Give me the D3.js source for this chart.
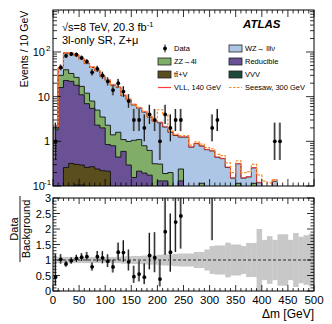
<!DOCTYPE html>
<html>
<head>
<meta charset="UTF-8">
<style>
  body { margin: 0; background: #fff; }
  text { font-family: "Liberation Sans", Arial, sans-serif; fill: #000; }
</style>
</head>
<body>
<svg width="332" height="324"></svg>
<script src="https://d3js.org/d3.v7.min.js"></script>
<script>

// bins of 10 GeV from 0 to 500
const edges = d3.range(0, 510, 10);

// observed events per bin (0 = no point)
const dataCounts = [1, 45, 82, 90, 87, 74, 61, 35, 42, 30, 22, 14, 20, 13, 8, 3, 3, 2, 4, 3,
  1, 4, 2, 3, 3, 0, 0, 0, 0, 0, 2, 3, 0, 0, 0, 0, 0, 0, 0, 0,
  0, 0, 1, 1, 0, 0, 0, 0, 0, 0];

// backgrounds, stacked bottom -> top: VVV, ttV, Reducible, ZZ, WZ
const vvv = [0.005, 0.01, 0.02, 0.05, 0.105, 0.105, 0.02, 0.01, 0.01, 0.01,
  0.005, 0.005, 0.005, 0.005, 0.005, 0.005, 0.005, 0.005, 0.005, 0.005,
  0.005, 0.005, 0.005, 0.005, 0.005, 0.005, 0.005, 0.005, 0.005, 0.005,
  0.005, 0.005, 0.005, 0.005, 0.005, 0.005, 0.005, 0.005, 0.005, 0.005,
  0.005, 0.005, 0.005, 0.005, 0.005, 0.005, 0.005, 0.005, 0.005, 0.005];
const ttv = [0.015, 0.07, 0.24, 0.27, 0.2, 0.19, 0.24, 0.26, 0.23, 0.21,
  0.21, 0.04, 0.02, 0.01, 0.01, 0.01, 0.01, 0.01, 0.01, 0.01,
  0.005, 0.005, 0.005, 0.005, 0.005, 0.005, 0.005, 0.005, 0.005, 0.005,
  0.005, 0.005, 0.005, 0.005, 0.005, 0.005, 0.005, 0.005, 0.005, 0.005,
  0.005, 0.005, 0.005, 0.005, 0.005, 0.005, 0.005, 0.005, 0.005, 0.005];
const reducible = [1.78, 15.9, 22.7, 21.7, 17.7, 10.7, 6.7, 5.2, 2.06, 1.78,
  0.63, 0.75, 0.42, 0.58, 0.28, 0.14, 0.2, 0.18, 0.16, 0.04,
  0.12, 0.12, 0.01, 0.01, 0.12, 0.005, 0.005, 0.005, 0.005, 0.005,
  0.005, 0.005, 0.005, 0.005, 0.005, 0.005, 0.005, 0.005, 0.005, 0.005,
  0.005, 0.005, 0.005, 0.005, 0.005, 0.005, 0.005, 0.005, 0.005, 0.005];
const zz = [0.2, 14, 17, 11, 9, 6, 5, 2.5, 2.7, 1.5,
  1.45, 0.6, 1.15, 0.5, 0.7, 0.9, 0.88, 0.6, 0.45, 0.26,
  0.18, 0.06, 0.18, 0.01, 0.11, 0.01, 0.005, 0.005, 0.1, 0.005,
  0.005, 0.005, 0.005, 0.005, 0.005, 0.1, 0.005, 0.005, 0.1, 0.003,
  0.003, 0.003, 0.003, 0.003, 0.003, 0.003, 0.003, 0.003, 0.003, 0.003];
const wz = [0.2, 14, 54, 59, 56, 51, 43, 37, 33, 24.5,
  20.7, 16.6, 14.4, 9.4, 7.5, 5.45, 4.4, 3.7, 2.87, 2.48,
  2.28, 1.9, 1.4, 1.32, 1.0, 1.22, 0.72, 0.87, 0.67, 0.63,
  0.59, 0.42, 0.39, 0.24, 0.13, 0.2, 0.13, 0.14, 0.14, 0.1,
  0.05, 0.04, 0.11, 0.03, 0.02, 0.02, 0.01, 0.01, 0.01, 0.01];

// signal contributions drawn on top of the total background
const vll140 = [0, 1, 3, 3, 3, 2.5, 2, 1.8, 1.5, 1.2,
  1, 0.8, 0.6, 0.5, 0.4, 0.3, 0.25, 0.2, 0.15, 0.12,
  0.1, 0.08, 0.05, 0.04, 0.03, 0.02, 0.01, 0.01, 0.01, 0.01,
  0.005, 0.005, 0.005, 0.005, 0.003, 0.003, 0.003, 0.003, 0.003, 0.003,
  0.003, 0.003, 0.01, 0.003, 0.003, 0.003, 0.003, 0.003, 0.003, 0.003];
const seesaw300 = [0, 0, 0.2, 0.2, 0.2, 0.2, 0.2, 0.2, 0.1, 0.1,
  0.1, 0.1, 0.1, 0.05, 0.05, 0.05, 0.05, 0.05, 0.05, 0.05,
  2.5, 1.8, 0.12, 0.1, 0.1, 0.1, 0.08, 0.08, 0.08, 0.07,
  0.07, 0.07, 0.07, 0.07, 0.05, 0.05, 0.05, 0.05, 0.05, 0.06,
  0.06, 0.06, 0.01, 0.01, 0.01, 0.01, 0.01, 0.01, 0.01, 0.01];

// relative background uncertainty (ratio band half width)
const relUnc = [0.1, 0.1, 0.1, 0.1, 0.1, 0.1, 0.1, 0.1, 0.1, 0.1,
  0.1, 0.1, 0.1, 0.12, 0.12, 0.13, 0.13, 0.14, 0.15, 0.15,
  0.17, 0.18, 0.18, 0.2, 0.21, 0.21, 0.21, 0.26, 0.26, 0.34,
  0.45, 0.47, 0.47, 0.56, 0.5, 0.5, 0.45, 0.55, 0.55, 1.0,
  0.65, 0.77, 0.65, 0.83, 0.83, 0.65, 0.87, 0.75, 0.8, 0.85];

const ratioTicks = [0, 0.5, 1, 1.5, 2, 2.5, 3];
const xTicks = d3.range(0, 501, 50);

const colors = {
  wz: "#adc6e6", zz: "#80ad68", red: "#6a5196", ttv: "#5b4e1e", vvv: "#1d4a3a",
  vll: "#ff3b3b", seesaw: "#ff8a26", band: "#c8c8c8"
};

const svg = d3.select("svg");
const L = 53, R = 314, T1 = 10, B1 = 186, T2 = 198, B2 = 291;

const x = d3.scaleLinear().domain([0, 500]).range([L, R]);
const y = d3.scaleLog().domain([0.1, 870]).range([B1, T1]);
const yr = d3.scaleLinear().domain([0, 3]).range([B2, T2]);

svg.append("clipPath").attr("id", "clipTop")
  .append("rect").attr("x", L).attr("y", T1).attr("width", R - L).attr("height", B1 - T1);
svg.append("clipPath").attr("id", "clipBot")
  .append("rect").attr("x", L).attr("y", T2).attr("width", R - L).attr("height", B2 - T2);

// cumulative stack
const layers = [vvv, ttv, reducible, zz, wz];
const layerColors = [colors.vvv, colors.ttv, colors.red, colors.zz, colors.wz];
const cum = [];
let run = edges.slice(0, -1).map(() => 0);
layers.forEach(arr => {
  run = run.map((v, i) => v + arr[i]);
  cum.push(run);
});
const total = cum[cum.length - 1];

function stepPoints(vals) {
  const pts = [];
  vals.forEach((v, i) => {
    pts.push([edges[i], v]);
    pts.push([edges[i + 1], v]);
  });
  return pts;
}
const clampY = v => y(Math.max(v, 0.05));

const area = d3.area().x(d => x(d[0])).y0(B1 + 2).y1(d => clampY(d[1]));
const line = d3.line().x(d => x(d[0])).y(d => clampY(d[1]));

const gTop = svg.append("g").attr("clip-path", "url(#clipTop)");

// draw from the top layer down so lower layers paint over
for (let k = cum.length - 1; k >= 0; k--) {
  const pts = stepPoints(cum[k]);
  gTop.append("path").attr("d", area(pts)).attr("fill", layerColors[k]);
  gTop.append("path").attr("d", line(pts)).attr("fill", "none")
    .attr("stroke", "#111").attr("stroke-width", 0.9);
}

// signals
gTop.append("path").attr("d", line(stepPoints(total.map((v, i) => v + vll140[i]))))
  .attr("fill", "none").attr("stroke", colors.vll).attr("stroke-width", 0.8);
gTop.append("path").attr("d", line(stepPoints(total.map((v, i) => v + seesaw300[i]))))
  .attr("fill", "none").attr("stroke", colors.seesaw).attr("stroke-width", 1.2)
  .attr("stroke-dasharray", "2.5,1.5");

// data points with Poisson-like error bars
const pts = dataCounts.map((n, i) => ({
  n, c: (edges[i] + edges[i + 1]) / 2, bkg: total[i],
  up: n + 0.5 + Math.sqrt(n + 0.25), lo: n + 0.5 - Math.sqrt(n + 0.25)
})).filter(d => d.n > 0);

function drawPoints(g, yf, val, hi, lo) {
  g.selectAll(null).data(pts).enter().append("line")
    .attr("x1", d => x(d.c) - 0.6).attr("x2", d => x(d.c) - 0.6)
    .attr("y1", d => yf(hi(d))).attr("y2", d => yf(lo(d)))
    .attr("stroke", "#999").attr("stroke-width", 1.6);
  g.selectAll(null).data(pts).enter().append("line")
    .attr("x1", d => x(d.c)).attr("x2", d => x(d.c))
    .attr("y1", d => yf(hi(d))).attr("y2", d => yf(lo(d)))
    .attr("stroke", "#000").attr("stroke-width", 0.9);
  g.selectAll(null).data(pts).enter().append("circle")
    .attr("cx", d => x(d.c)).attr("cy", d => yf(val(d))).attr("r", 1.9).attr("fill", "#000");
}
drawPoints(gTop, v => y(Math.max(v, 0.02)), d => d.n, d => d.up, d => d.lo);

// ---- ratio panel
const gBot = svg.append("g").attr("clip-path", "url(#clipBot)");
gBot.selectAll(null).data(relUnc).enter().append("rect")
  .attr("x", (d, i) => x(edges[i])).attr("width", (d, i) => x(edges[i + 1]) - x(edges[i]) + 0.3)
  .attr("y", d => yr(1 + d)).attr("height", d => yr(Math.max(0, 1 - d)) - yr(1 + d))
  .attr("fill", colors.band);
gBot.append("line").attr("x1", L).attr("x2", R).attr("y1", yr(1)).attr("y2", yr(1))
  .attr("stroke", "#000").attr("stroke-width", 0.8).attr("stroke-dasharray", "3,2");
drawPoints(gBot, yr, d => d.n / d.bkg, d => d.up / d.bkg, d => d.lo / d.bkg);

// ---- frames and ticks
function frame(top, bot) {
  svg.append("rect").attr("x", L).attr("y", top).attr("width", R - L).attr("height", bot - top)
    .attr("fill", "none").attr("stroke", "#000").attr("stroke-width", 1);
}
frame(T1, B1);
frame(T2, B2);

function xTicksFor(top, bot, big, small) {
  d3.range(0, 501, 10).forEach(v => {
    const len = v % 50 === 0 ? big : small;
    svg.append("line").attr("x1", x(v)).attr("x2", x(v)).attr("y1", bot).attr("y2", bot - len)
      .attr("stroke", "#000").attr("stroke-width", 0.8);
    svg.append("line").attr("x1", x(v)).attr("x2", x(v)).attr("y1", top).attr("y2", top + len)
      .attr("stroke", "#000").attr("stroke-width", 0.8);
  });
}
xTicksFor(T1, B1, 7, 3.5);
xTicksFor(T2, B2, 6, 3);

function yTick(yy, len) {
  svg.append("line").attr("x1", L).attr("x2", L + len).attr("y1", yy).attr("y2", yy)
    .attr("stroke", "#000").attr("stroke-width", 0.8);
  svg.append("line").attr("x1", R).attr("x2", R - len).attr("y1", yy).attr("y2", yy)
    .attr("stroke", "#000").attr("stroke-width", 0.8);
}
[0.1, 1, 10, 100].forEach(d => {
  d3.range(1, 10).forEach(m => {
    const v = d * m;
    if (v <= 870) yTick(y(v), m === 1 ? 8 : 4);
  });
});
d3.range(0, 3.001, 0.1).forEach(v => {
  const major = Math.abs(v * 2 - Math.round(v * 2)) < 1e-6;
  yTick(yr(v), major ? 7 : 3.5);
});

// log tick labels
const logLabels = [[0.1, "10", "-1"], [1, "1", ""], [10, "10", ""], [100, "10", "2"]];
logLabels.forEach(([v, base, sup]) => {
  svg.append("text").attr("x", L - 3 - (sup ? 5 : 0)).attr("y", y(v) + 4)
    .attr("text-anchor", "end").attr("font-size", 11).text(base);
  if (sup) {
    svg.append("text").attr("x", L - 3 - (sup.length > 1 ? 6 : 4)).attr("y", y(v) - 1)
      .attr("text-anchor", "start").attr("font-size", 8).text(sup);
  }
});

ratioTicks.forEach(v => {
  svg.append("text").attr("x", L - 2).attr("y", yr(v) + 4)
    .attr("text-anchor", "end").attr("font-size", 11).text(v);
});
xTicks.forEach(v => {
  svg.append("text").attr("x", x(v)).attr("y", 304)
    .attr("text-anchor", "middle").attr("font-size", 11.5).text(v);
});

// axis titles
svg.append("text").attr("x", R).attr("y", 318).attr("text-anchor", "end")
  .attr("font-size", 12).text("\u0394m [GeV]");
svg.append("text").attr("transform", "translate(28,49) rotate(-90)")
  .attr("text-anchor", "middle").attr("font-size", 10.5).text("Events / 10 GeV");
svg.append("text").attr("transform", "translate(18,229) rotate(-90)")
  .attr("text-anchor", "middle").attr("font-size", 11).text("Data");
svg.append("line").attr("x1", 20).attr("x2", 20).attr("y1", 196).attr("y2", 262)
  .attr("stroke", "#000").attr("stroke-width", 0.9);
svg.append("text").attr("transform", "translate(30,229) rotate(-90)")
  .attr("text-anchor", "middle").attr("font-size", 11).text("Background");

// labels
const lab = svg.append("text").attr("x", 62).attr("y", 31).attr("font-size", 11);
lab.append("tspan").text("\u221As=8 TeV, 20.3 fb");
lab.append("tspan").attr("dy", -4).attr("font-size", 7.5).text("-1");
svg.append("text").attr("x", 62).attr("y", 44).attr("font-size", 11).text("3l-only SR, Z+\u03BC");
svg.append("text").attr("x", 243).attr("y", 28).attr("font-size", 11.5)
  .attr("font-weight", "bold").attr("font-style", "italic").text("ATLAS");

// legend
const leg = svg.append("g").attr("font-size", 7.5);
const rows = [48.5, 61.5, 74.5, 87.5];
function legBox(x0, yc, color, label) {
  leg.append("rect").attr("x", x0).attr("y", yc - 3.5).attr("width", 13).attr("height", 7)
    .attr("fill", color).attr("stroke", "#222").attr("stroke-width", 0.8);
  leg.append("text").attr("x", x0 + 16).attr("y", yc + 2.7).text(label);
}
// data entry
leg.append("line").attr("x1", 165).attr("x2", 165).attr("y1", rows[0] - 4).attr("y2", rows[0] + 4)
  .attr("stroke", "#000").attr("stroke-width", 0.9);
leg.append("circle").attr("cx", 165).attr("cy", rows[0]).attr("r", 1.9);
leg.append("text").attr("x", 174).attr("y", rows[0] + 2.7).text("Data");
legBox(229, rows[0], colors.wz, "WZ\u2192 lll\u03BD");
legBox(158, rows[1], colors.zz, "ZZ\u21924l");
legBox(229, rows[1], colors.red, "Reducible");
legBox(158, rows[2], colors.ttv, "tt\u0304+V");
legBox(229, rows[2], colors.vvv, "VVV");
leg.append("line").attr("x1", 158).attr("x2", 171).attr("y1", rows[3]).attr("y2", rows[3])
  .attr("stroke", colors.vll).attr("stroke-width", 1.2);
leg.append("text").attr("x", 174).attr("y", rows[3] + 2.7).text("VLL, 140 GeV");
leg.append("line").attr("x1", 229).attr("x2", 242).attr("y1", rows[3]).attr("y2", rows[3])
  .attr("stroke", colors.seesaw).attr("stroke-width", 1.2).attr("stroke-dasharray", "2.5,1.5");
leg.append("text").attr("x", 245).attr("y", rows[3] + 2.7).text("Seesaw, 300 GeV");

</script>
</body>
</html>
